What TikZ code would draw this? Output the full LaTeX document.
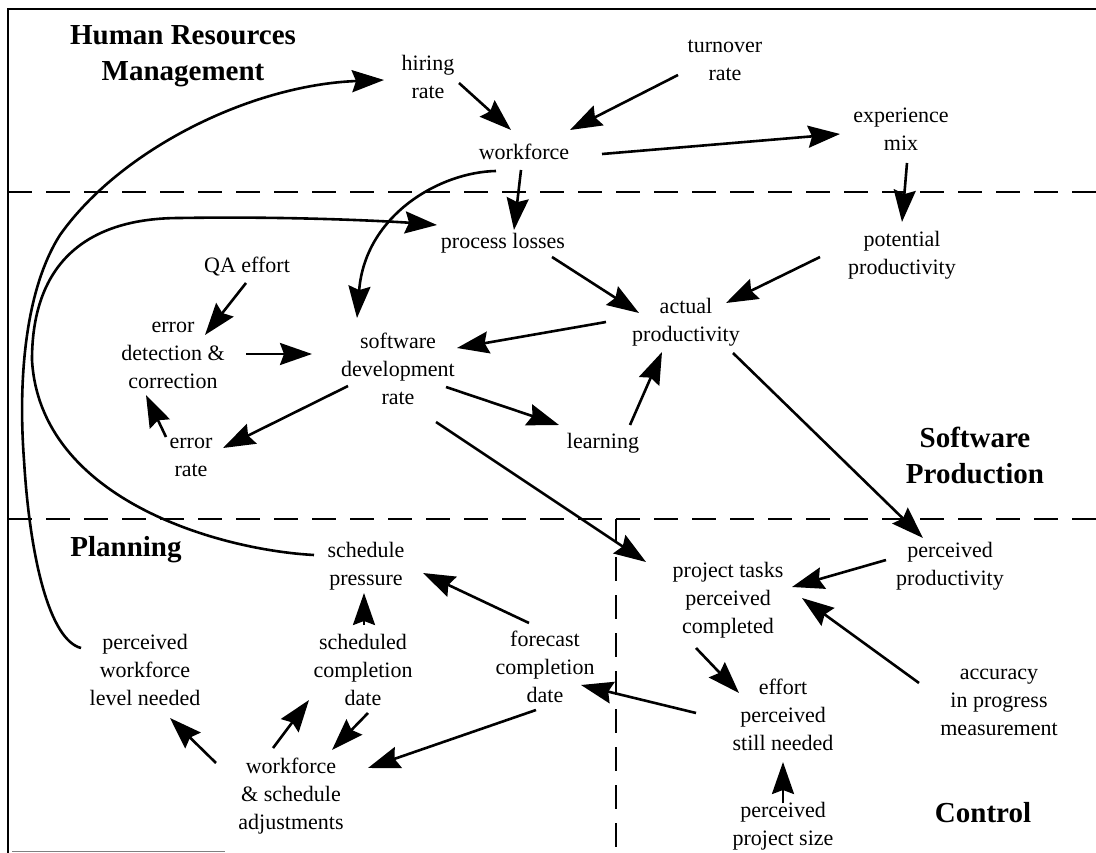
\documentclass[tikz,border=0pt]{standalone}
\usepackage{fontspec}
\setmainfont{Liberation Serif}
\usetikzlibrary{arrows.meta,calc}
\begin{document}
\begin{tikzpicture}[x=1pt,y=-1pt,
  lbl/.style={align=center, inner sep=1pt, font=\fontsize{22}{28}\selectfont},
  hdr/.style={align=center, inner sep=1pt, font=\fontsize{29}{36}\selectfont\bfseries},
  arr/.style={-{Stealth[length=32pt,width=22pt,inset=4pt]}, line width=2.6pt},
  frameline/.style={line width=2.6pt},
  sect/.style={line width=2.8pt, dash pattern=on 24pt off 14pt}]
\useasboundingbox (0,0) rectangle (1096,853);

% frame and section lines
\draw[frameline] (1096,9) -- (8,9) -- (8,853);
\draw[gray, line width=1pt] (12,851) -- (225,851);
\draw[sect] (8,192) -- (1096,192);
\draw[sect] (8,519) -- (1096,519);
\draw[sect] (616,519) -- (616,853);

% headings
\node[hdr] (hrm) at (183,56) {Human Resources\\Management};
\node[hdr] (swp) at (975,455) {Software\\Production};
\node[hdr] (planning) at (126,550) {Planning};
\node[hdr] (control) at (983,813) {Control};

% variables
\node[lbl] (hiring) at (428,77) {hiring\\rate};
\node[lbl] (turnover) at (725,60) {turnover\\rate};
\node[lbl] (workforce) at (524,152) {workforce};
\node[lbl] (experience) at (901,129) {experience\\mix};
\node[lbl] (ploss) at (503,243) {process losses};
\node[lbl] (potential) at (902,255) {potential\\productivity};
\node[lbl] (qa) at (247,267) {QA effort};
\node[lbl] (actual) at (686,322) {actual\\productivity};
\node[lbl] (errdet) at (173,355) {error\\detection \&\\correction};
\node[lbl] (swdev) at (398,369) {software\\development\\rate};
\node[lbl] (errrate) at (191,457) {error\\rate};
\node[lbl] (learning) at (603,443) {learning};
\node[lbl] (schedp) at (366,566) {schedule\\pressure};
\node[lbl] (percprod) at (950,566) {perceived\\productivity};
\node[lbl] (ptasks) at (728,600) {project tasks\\perceived\\completed};
\node[lbl] (pwln) at (145,670) {perceived\\workforce\\level needed};
\node[lbl] (scd) at (363,670) {scheduled\\completion\\date};
\node[lbl] (fcd) at (545,667) {forecast\\completion\\date};
\node[lbl] (effort) at (783,715) {effort\\perceived\\still needed};
\node[lbl] (accuracy) at (999,702) {accuracy\\in progress\\measurement};
\node[lbl] (wsa) at (291,796) {workforce\\\& schedule\\adjustments};
\node[lbl] (pps) at (783,826) {perceived\\project size};

% connectors
\draw[arr] ([shift={(31,6)}]hiring.center) -- ([shift={(-13,-22)}]workforce.center);
\draw[arr] ([shift={(-47,15)}]turnover.center) -- ([shift={(46,-22)}]workforce.center);
\draw[arr] ([shift={(78,2)}]workforce.center) -- ([shift={(-61,5)}]experience.center);
\draw[arr] ([shift={(6,34)}]experience.center) -- ([shift={(0,-33)}]potential.center);
\draw[arr] ([shift={(-3,18)}]workforce.center) -- ([shift={(11,-13)}]ploss.center);
\draw[arr] ([shift={(-28,19)}]workforce.center) .. controls (440,172) and (365,215) .. ([shift={(-41,-51)}]swdev.center);
\draw[arr] ([shift={(49,14)}]ploss.center) -- ([shift={(-47,-9)}]actual.center);
\draw[arr] ([shift={(-82,2)}]potential.center) -- ([shift={(40,-19)}]actual.center);
\draw[arr] ([shift={(-1,16)}]qa.center) -- ([shift={(32,-20)}]errdet.center);
\draw[arr] ([shift={(73,-1)}]errdet.center) -- ([shift={(-86,-15)}]swdev.center);
\draw[arr] ([shift={(-80,0)}]actual.center) -- ([shift={(59,-21)}]swdev.center);
\draw[arr] ([shift={(-50,17)}]swdev.center) -- ([shift={(32,-9)}]errrate.center);
\draw[arr] ([shift={(-25,-20)}]errrate.center) -- ([shift={(-27,40)}]errdet.center);
\draw[arr] ([shift={(48,18)}]swdev.center) -- ([shift={(-44,-18)}]learning.center);
\draw[arr] ([shift={(27,-18)}]learning.center) -- ([shift={(-24,30)}]actual.center);
\draw[arr] ([shift={(47,31)}]actual.center) -- ([shift={(-27,-28)}]percprod.center);
\draw[arr] ([shift={(38,53)}]swdev.center) -- ([shift={(-82,-38)}]ptasks.center);
\draw[arr] ([shift={(-64,-6)}]percprod.center) -- ([shift={(64,-13)}]ptasks.center);
\draw[arr] ([shift={(-80,-19)}]accuracy.center) -- ([shift={(74,-2)}]ptasks.center);
\draw[arr] ([shift={(-32,48)}]ptasks.center) -- ([shift={(-44,-22)}]effort.center);
\draw[arr] ([shift={(-87,-2)}]effort.center) -- ([shift={(36,18)}]fcd.center);
\draw[arr] ([shift={(0,-23)}]pps.center) -- ([shift={(0,47)}]effort.center);
\draw[arr] ([shift={(-16,-44)}]fcd.center) -- ([shift={(57,7)}]schedp.center);
\draw[arr] ([shift={(1,-45)}]scd.center) -- ([shift={(-2,27)}]schedp.center);
\draw[arr] ([shift={(-75,-33)}]wsa.center) -- ([shift={(25,48)}]pwln.center);
\draw[arr] ([shift={(-18,-48)}]wsa.center) -- ([shift={(-54,30)}]scd.center);
\draw[arr] ([shift={(5,43)}]scd.center) -- ([shift={(41,-46)}]wsa.center);
\draw[arr] ([shift={(-9,43)}]fcd.center) -- ([shift={(77,-28)}]wsa.center);
% long feedback curves
\draw[arr] ([shift={(-64,-22)}]pwln.center) .. controls (50,640) and (30,560) .. (24,460)
  .. controls (18,380) and (25,290) .. (60,235)
  .. controls (120,150) and (250,85) .. ([shift={(-44,3)}]hiring.center);
\draw[arr] ([shift={(-52,-11)}]schedp.center) .. controls (220,550) and (40,500) .. (32,360)
  .. controls (32,260) and (90,218) .. (180,218)
  .. controls (300,216) and (400,222) .. ([shift={(-66,-18)}]ploss.center);
\end{tikzpicture}
\end{document}
